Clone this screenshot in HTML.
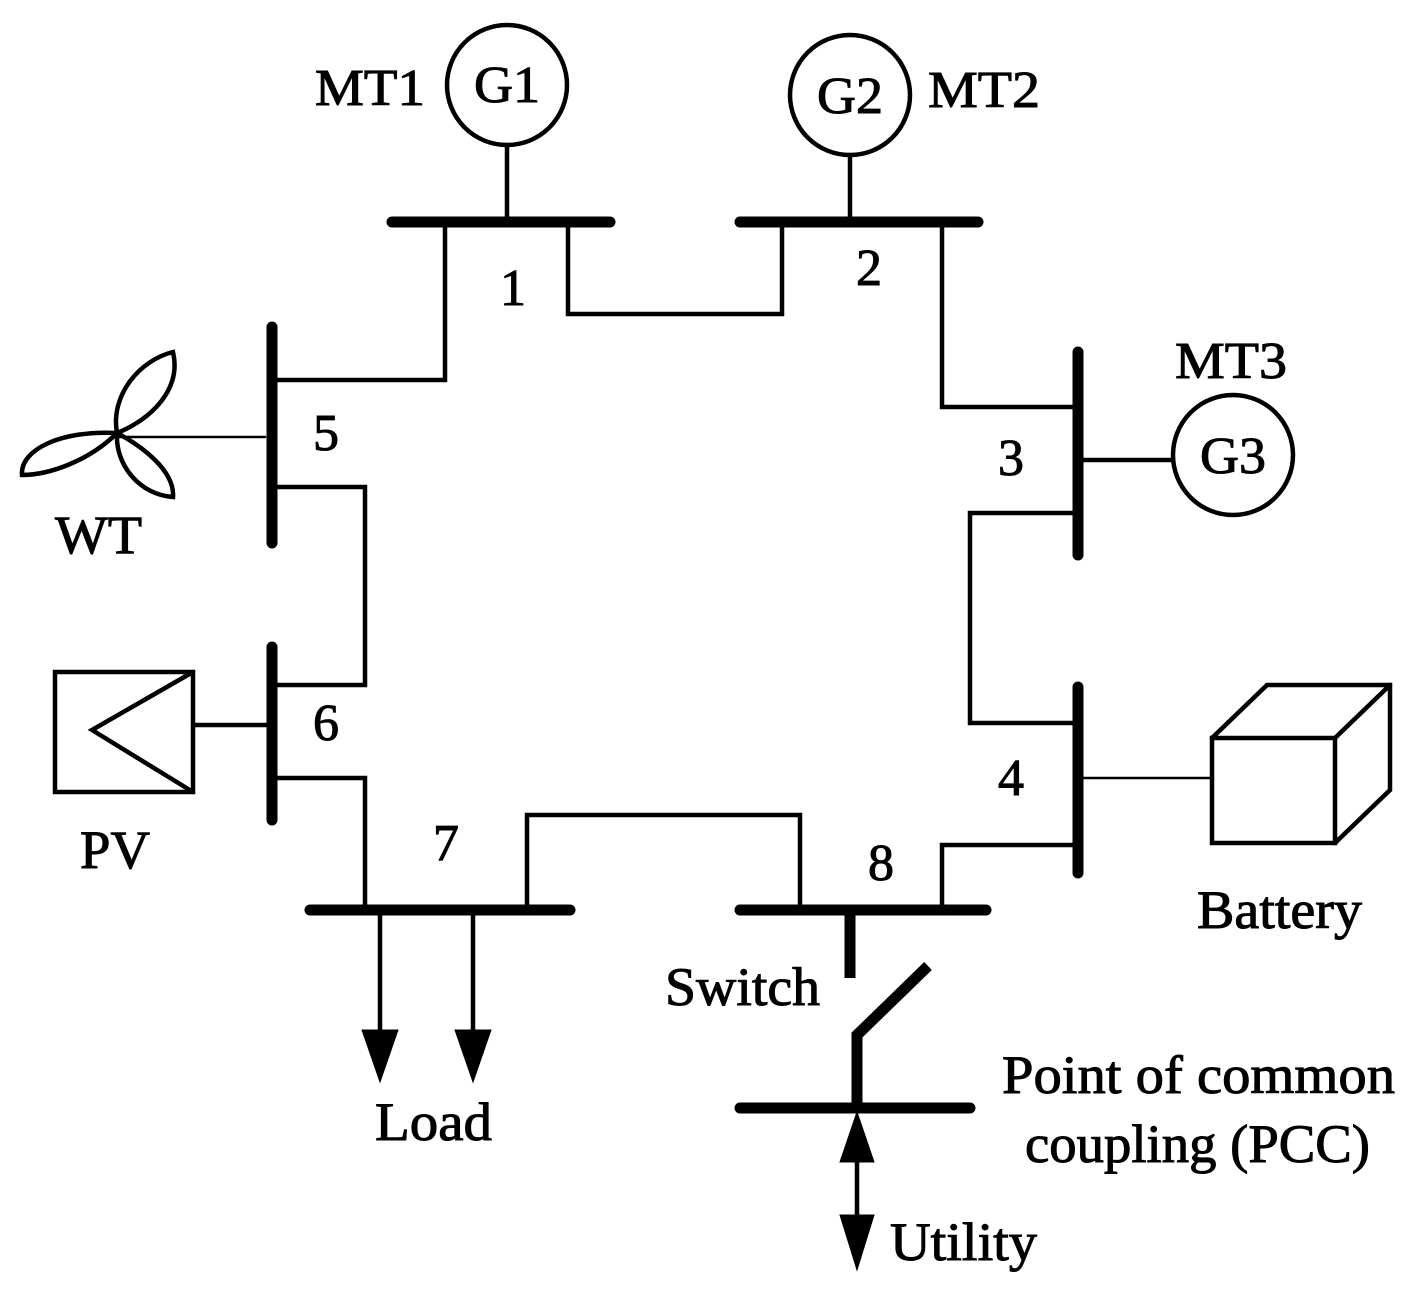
<!DOCTYPE html>
<html><head><meta charset="utf-8"><style>
html,body{margin:0;padding:0;background:#fff}
svg{display:block}
text{font-family:"Liberation Serif",serif;font-size:54px;fill:#000}
text.n{font-size:52px}
</style></head><body>
<svg width="1419" height="1306" viewBox="0 0 1419 1306" xmlns="http://www.w3.org/2000/svg">
<g stroke="#000" fill="none" stroke-linecap="round">
<g stroke-width="11">
<line x1="392" y1="222" x2="610" y2="222"/>
<line x1="740" y1="222" x2="978" y2="222"/>
<line x1="1078" y1="352" x2="1078" y2="555"/>
<line x1="1078" y1="687" x2="1078" y2="873"/>
<line x1="272" y1="327" x2="272" y2="543"/>
<line x1="272" y1="647" x2="272" y2="820"/>
<line x1="310" y1="910" x2="570" y2="910"/>
<line x1="740" y1="910" x2="986" y2="910"/>
<line x1="740" y1="1108" x2="970" y2="1108"/>
<line x1="850" y1="910" x2="850" y2="978" stroke-linecap="butt"/>
<polyline points="928,966 857,1035 857,1108" stroke-linecap="butt"/>
</g>
<g stroke-width="4.5">
<line x1="507" y1="145" x2="507" y2="222"/>
<line x1="850" y1="155" x2="850" y2="222"/>
<line x1="1078" y1="460" x2="1172" y2="460"/>
<polyline points="445,222 445,380 272,380"/>
<polyline points="568,222 568,314 782,314 782,222"/>
<polyline points="942,222 942,407 1078,407"/>
<polyline points="1078,513 970,513 970,723 1078,723"/>
<polyline points="1078,845 942,845 942,910"/>
<polyline points="800,910 800,815 527,815 527,910"/>
<polyline points="272,778 365,778 365,910"/>
<polyline points="272,685 365,685 365,487 272,487"/>
<line x1="193" y1="725" x2="272" y2="725"/>
<line x1="380" y1="910" x2="380" y2="1035"/>
<line x1="473" y1="910" x2="473" y2="1035"/>
<line x1="857" y1="1150" x2="857" y2="1225"/>
<circle cx="507" cy="85" r="60"/>
<circle cx="850" cy="95" r="60"/>
<circle cx="1233" cy="455" r="60"/>
<rect x="55" y="672" width="138" height="120"/>
<polyline points="193,672 92,730 193,792"/>
<rect x="1212" y="738" width="123" height="105"/>
<polyline points="1212,738 1267,685 1390,685 1390,790 1335,843"/>
<line x1="1335" y1="738" x2="1390" y2="685"/>
<path d="M117,433 C110,395 140,360 173,352 C182,390 150,420 117,433 Z"/>
<path d="M117,433 C90,460 50,475 22,475 C20,450 60,430 117,433 Z"/>
<path d="M117,433 C140,445 175,470 173,497 C140,495 115,465 117,433 Z"/>
</g>
<g stroke="#000" stroke-width="2.5">
<line x1="117" y1="437" x2="265" y2="437"/>
<line x1="1078" y1="778" x2="1212" y2="778"/>
</g>
<g fill="#000">
<polygon points="362,1030 398,1030 380,1082"/>
<polygon points="455,1030 491,1030 473,1082"/>
<polygon points="857,1112 840,1162 874,1162"/>
<polygon points="857,1270 840,1215 874,1215"/>
</g>
<text class="n" x="474" y="102" textLength="66" lengthAdjust="spacingAndGlyphs">G1</text>
<text class="n" x="817" y="113" textLength="66" lengthAdjust="spacingAndGlyphs">G2</text>
<text class="n" x="1200" y="473" textLength="66" lengthAdjust="spacingAndGlyphs">G3</text>
<text class="n" x="315" y="105" textLength="110" lengthAdjust="spacingAndGlyphs">MT1</text>
<text class="n" x="928" y="107" textLength="112" lengthAdjust="spacingAndGlyphs">MT2</text>
<text class="n" x="1175" y="378" textLength="112" lengthAdjust="spacingAndGlyphs">MT3</text>
<text class="n" x="500" y="305">1</text>
<text class="n" x="856" y="285">2</text>
<text class="n" x="998" y="475">3</text>
<text class="n" x="998" y="795">4</text>
<text class="n" x="313" y="450">5</text>
<text class="n" x="313" y="740">6</text>
<text class="n" x="433" y="860">7</text>
<text class="n" x="868" y="880">8</text>
<text x="55" y="553" textLength="87" lengthAdjust="spacingAndGlyphs">WT</text>
<text x="80" y="868" textLength="70" lengthAdjust="spacingAndGlyphs">PV</text>
<text x="375" y="1140" textLength="117" lengthAdjust="spacingAndGlyphs">Load</text>
<text x="665" y="1005" textLength="155" lengthAdjust="spacingAndGlyphs">Switch</text>
<text x="1197" y="928" textLength="165" lengthAdjust="spacingAndGlyphs">Battery</text>
<text x="1002" y="1093" textLength="393" lengthAdjust="spacingAndGlyphs">Point of common</text>
<text x="1025" y="1162" textLength="345" lengthAdjust="spacingAndGlyphs">coupling (PCC)</text>
<text x="890" y="1260" textLength="147" lengthAdjust="spacingAndGlyphs">Utility</text>
</svg>
</body></html>
